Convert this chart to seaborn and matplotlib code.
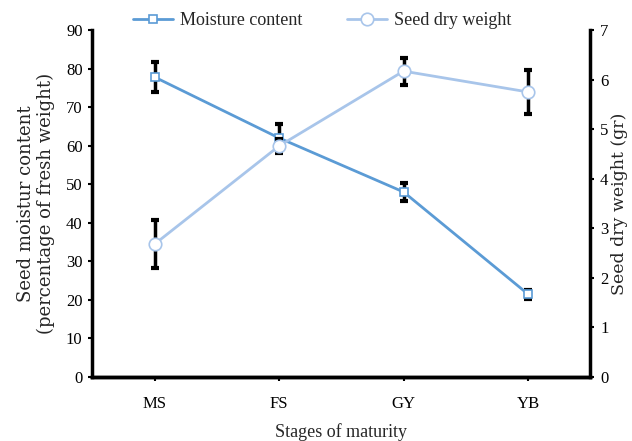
import matplotlib
matplotlib.use("Agg")
import matplotlib.pyplot as plt
import seaborn as sns
import pandas as pd
import numpy as np

# Data
stages = ["MS", "FS", "GY", "YB"]
moisture = [77.8, 62.0, 48.0, 21.5]
moisture_err = [4.0, 3.5, 2.3, 1.2]
dry_weight = [2.68, 4.66, 6.17, 5.75]
dry_weight_err = [0.48, 0.15, 0.27, 0.45]

moist_color = "#5B9BD5"
dry_color = "#A8C5EA"

sns.set_style("ticks")
plt.rcParams["font.family"] = ["Liberation Serif", "DejaVu Serif"]

df = pd.DataFrame({"stage": stages, "x": np.arange(len(stages)),
                   "moisture": moisture, "dry": dry_weight})

fig = plt.figure(figsize=(6.32, 4.41), dpi=100)
ax = fig.add_axes([0.146, 0.145, 0.788, 0.787])
ax2 = ax.twinx()

# error bars first so markers sit on top
ax.errorbar(df["x"], df["moisture"], yerr=moisture_err, fmt="none",
            ecolor="black", elinewidth=2.5, capsize=3, capthick=3, zorder=2)
ax2.errorbar(df["x"], df["dry"], yerr=dry_weight_err, fmt="none",
             ecolor="black", elinewidth=2.5, capsize=3, capthick=3, zorder=2)

sns.lineplot(data=df, x="x", y="moisture", ax=ax, color=moist_color,
             linewidth=2, marker="s", markersize=6, markerfacecolor="white",
             markeredgecolor=moist_color, markeredgewidth=1.2, zorder=3,
             label="Moisture content", legend=False)
sns.lineplot(data=df, x="x", y="dry", ax=ax2, color=dry_color,
             linewidth=2, marker="o", markersize=9, markerfacecolor="white",
             markeredgecolor=dry_color, markeredgewidth=1.2, zorder=3,
             label="Seed dry weight", legend=False)

ax.set_xlim(-0.5, 3.5)
ax.set_ylim(0, 90)
ax2.set_ylim(0, 7)
ax.set_yticks(range(0, 91, 10))
ax2.set_yticks(range(0, 8))
ax.set_xticks(df["x"])
ax.set_xticklabels(stages)

for a in (ax, ax2):
    a.spines["top"].set_visible(False)
    for s in ("left", "right", "bottom"):
        a.spines[s].set_linewidth(2.5)
        a.spines[s].set_color("black")
    a.tick_params(axis="both", labelsize=12, width=1.5, length=3,
                  colors="black", direction="out")
ax2.spines["left"].set_visible(False)
ax.spines["right"].set_visible(False)
ax.tick_params(axis="x", pad=11)
ax.tick_params(axis="y", pad=4)
ax2.tick_params(axis="y", pad=4)

ax.set_xlabel("Stages of maturity", fontsize=13, labelpad=8)
ax.set_ylabel("Seed moistur content\n(percentage of fresh weight)",
              fontsize=13, family="DejaVu Serif", labelpad=8, linespacing=1.1)
ax2.set_ylabel("Seed dry weight (gr)", fontsize=12.5, family="DejaVu Serif",
               labelpad=2)

h1, l1 = ax.get_legend_handles_labels()
h2, l2 = ax2.get_legend_handles_labels()
fig.legend(h1 + h2, l1 + l2, loc="upper center", bbox_to_anchor=(0.51, 1.01),
           ncol=2, frameon=False, fontsize=13, handlelength=2.2,
           columnspacing=2.5, handletextpad=0.4)

fig.savefig("out.png", dpi=100)
